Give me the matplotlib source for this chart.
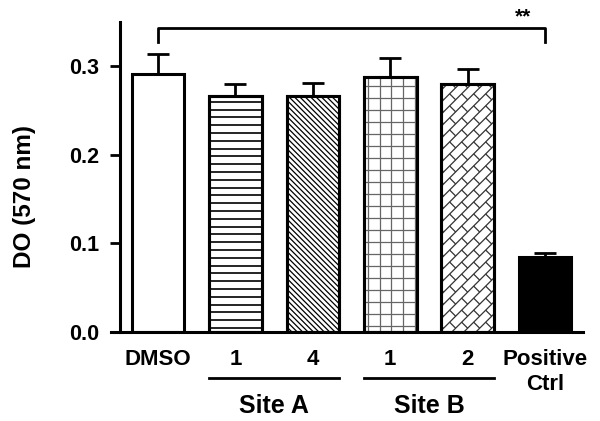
import numpy as np
import matplotlib.pyplot as plt
import matplotlib.transforms as mtransforms
from matplotlib.collections import LineCollection

plt.rcParams['font.family'] = ['Liberation Sans', 'DejaVu Sans']
plt.rcParams['font.weight'] = 'bold'

labels = ["DMSO", "1", "4", "1", "2", "Positive\nCtrl"]
means = [0.291, 0.267, 0.266, 0.288, 0.280, 0.085]
errors = [0.023, 0.013, 0.015, 0.021, 0.017, 0.004]
patterns = [None, "hlines", "diag", "grid", "brick", None]
faces = ["white", "white", "white", "white", "white", "black"]
groups = [("Site A", 1, 2), ("Site B", 3, 4)]
sig_text = "**"


def fill_pattern(ax, patch, kind):
    # pattern lines drawn in pixel space, clipped to the bar
    x0, y0, x1, y1 = patch.get_window_extent().extents
    segs = []
    color, lw = "black", 1.0
    if kind == "hlines":
        for y in np.arange(y0 + 4, y1, 7.8):
            segs.append([(x0, y), (x1, y)])
        lw = 1.2
    elif kind == "diag":
        h = y1 - y0
        for c in np.arange(x0 - h, x1 + 5.4, 5.4):
            segs.append([(c, y1), (c + h, y0)])
        lw = 0.9
    elif kind == "grid":
        for x in np.arange(x0 + 4, x1, 11.7):
            segs.append([(x, y0), (x, y1)])
        for y in np.arange(y0 + 6, y1, 12):
            segs.append([(x0, y), (x1, y)])
        color, lw = "#666666", 0.9
    elif kind == "brick":
        d = 8.5
        eu = np.array([1, 1]) / np.sqrt(2)
        ev = np.array([-1, 1]) / np.sqrt(2)
        c = np.array([(x0 + x1) / 2, (y0 + y1) / 2])
        n = int(max(x1 - x0, y1 - y0) / d) + 2
        for k in range(-n, n):
            v = k * d
            segs.append([c - 2 * n * d * eu + v * ev, c + 2 * n * d * eu + v * ev])
            for m in range(-n, n):
                u = (2 * m + (k % 2)) * d
                segs.append([c + u * eu + v * ev, c + u * eu + (v + d) * ev])
        color, lw = "#333333", 0.9
    lc = LineCollection(segs, colors=color, linewidths=lw,
                        transform=mtransforms.IdentityTransform(), zorder=2.5)
    ax.add_collection(lc, autolim=False)
    lc.set_clip_path(patch)


fig = plt.figure(figsize=(6, 4.21), dpi=100)
ax = fig.add_axes([111 / 600, 1 - 332 / 421, 472 / 600, 310 / 421])
ax.set_xlim(-0.607, 5.49)
ax.set_ylim(0, 0.35)

x = list(range(len(means)))
bars = ax.bar(x, means, width=0.68, color=faces, edgecolor="black",
              linewidth=2.2, zorder=2)
for b, kind in zip(bars, patterns):
    if kind:
        fill_pattern(ax, b, kind)
        ax.bar(b.get_x() + b.get_width() / 2, b.get_height(), width=b.get_width(),
               color="none", edgecolor="black", linewidth=2.2, zorder=3)

ax.errorbar(x, means, yerr=[[0] * len(errors), errors], fmt="none",
            ecolor="black", elinewidth=2.0, capsize=8, capthick=2.0, zorder=1)

ax.set_xlim(-0.607, 5.49)
ax.set_ylim(0, 0.35)
ax.set_yticks([0.0, 0.1, 0.2, 0.3])
ax.set_yticklabels(["0.0", "0.1", "0.2", "0.3"])
ax.set_xticks(x)
ax.set_xticklabels(labels, linespacing=1.25)
ax.tick_params(axis="x", length=0, pad=12, labelsize=16)
ax.tick_params(axis="y", length=7, width=2, pad=8, labelsize=15.5)
for t in ax.get_xticklabels() + ax.get_yticklabels():
    t.set_fontweight("bold")

for s in ["top", "right"]:
    ax.spines[s].set_visible(False)
ax.spines["left"].set_position(("axes", 9 / 472))
ax.spines["left"].set_linewidth(2.2)
ax.spines["bottom"].set_linewidth(2.2)

fig.text(25 / 600, 1 - 196 / 421, "DO (570 nm)", rotation=90, fontsize=17.5,
         fontweight="bold", ha="center", va="center")

# significance bracket
ax.plot([0, 0, 5, 5], [0.327, 0.343, 0.343, 0.327], color="black", lw=2.0,
        clip_on=False)
ax.text(4.72, 0.345, sig_text, ha="center", va="bottom", fontsize=15,
        fontweight="bold")

trans = mtransforms.blended_transform_factory(ax.transData, ax.transAxes)
for name, a, b in groups:
    ax.plot([a - 0.34, b + 0.34], [-0.148, -0.148], color="black", lw=2.0,
            transform=trans, clip_on=False)
    ax.text((a + b) / 2, -0.24, name, transform=trans, ha="center",
            va="center", fontsize=18, fontweight="bold")

fig.savefig("out.png", dpi=100)
